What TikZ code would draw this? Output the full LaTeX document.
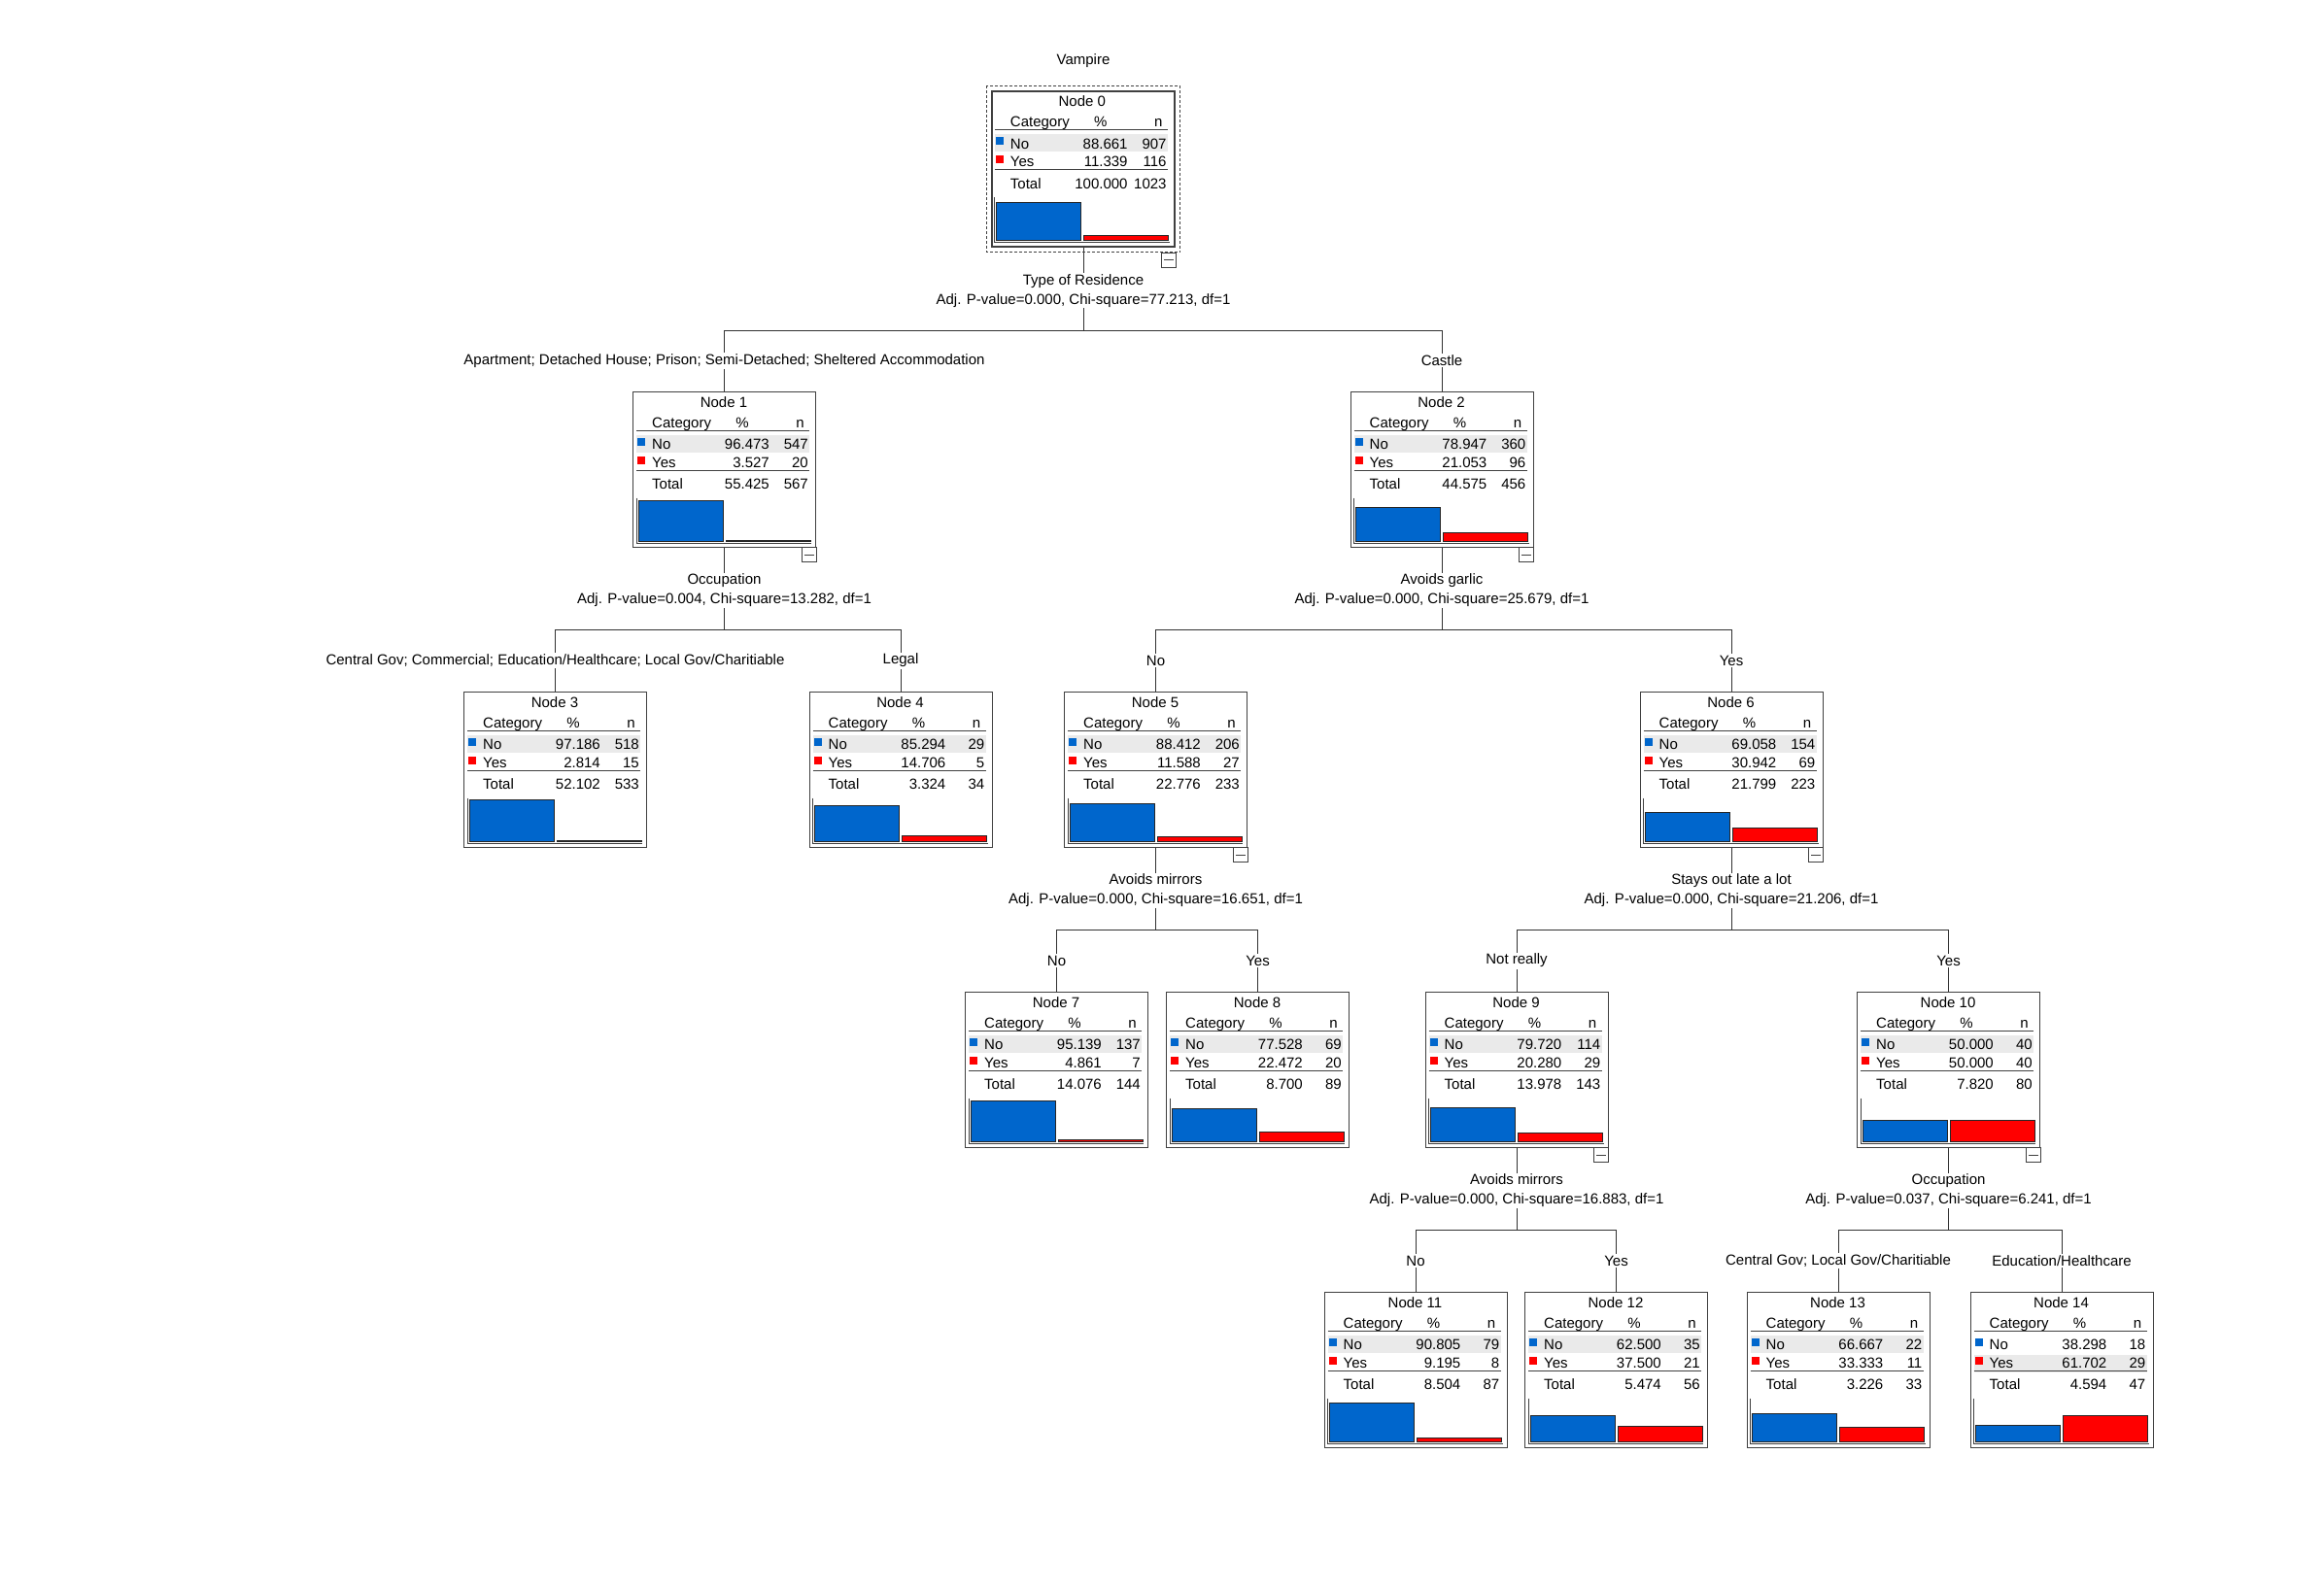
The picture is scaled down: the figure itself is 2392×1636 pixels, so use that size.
\documentclass[tikz,border=0pt]{standalone}
\usepackage{fontspec}
\setmainfont{Liberation Sans}
\usetikzlibrary{positioning}
\definecolor{noblue}{RGB}{0,102,204}
\definecolor{yesred}{RGB}{255,0,0}
\definecolor{rowgray}{RGB}{234,234,234}
\definecolor{boxgray}{RGB}{64,64,64}
\definecolor{linegray}{RGB}{50,50,50}
\begin{document}
\begin{tikzpicture}[x=1pt, y=1pt, every node/.style={font=\fontsize{15}{20}\selectfont, inner sep=0pt},
	nodebox/.style={draw=boxgray, line width=1pt, minimum width=188pt, minimum height=160pt, fill=white},
	rootbox/.style={line width=2.5pt},
	level distance=309pt,
	edge from parent/.style={draw=linegray, line width=1pt},
	edge from parent path={(\tikzparentnode.south) -- ++(0,-85) -| (\tikzchildnode.north)},
	branch/.style={fill=white, inner sep=1.5pt, pos=0.75},
	split/.style={fill=white, inner sep=1pt, align=center},
	bar/.style={draw=black!85, line width=0.8pt}]
	\useasboundingbox (0,0) rectangle (2392,-1636);
	\node[nodebox, rootbox](n0) at (1115,-174) {}
		child[sibling distance=739pt] {node[nodebox](n1){}
			child[sibling distance=348pt] {node[nodebox](n3){}
				edge from parent node[branch]{Central Gov; Commercial; Education/Healthcare; Local Gov/Charitiable}}
			child[sibling distance=363pt] {node[nodebox](n4){}
				edge from parent node[branch]{Legal}}
			edge from parent node[branch]{Apartment; Detached House; Prison; Semi-Detached; Sheltered Accommodation}}
		child[sibling distance=738pt] {node[nodebox](n2){}
			child[sibling distance=589pt] {node[nodebox](n5){}
				child[sibling distance=204pt] {node[nodebox](n7){} edge from parent node[branch]{No}}
				child[sibling distance=210pt] {node[nodebox](n8){} edge from parent node[branch]{Yes}}
				edge from parent node[branch]{No}}
			child[sibling distance=596pt] {node[nodebox](n6){}
				child[sibling distance=442pt] {node[nodebox](n9){}
					child[sibling distance=208pt] {node[nodebox](n11){} edge from parent node[branch]{No}}
					child[sibling distance=205pt] {node[nodebox](n12){} edge from parent node[branch]{Yes}}
					edge from parent node[branch]{Not really}}
				child[sibling distance=447pt] {node[nodebox](n10){}
					child[sibling distance=227pt] {node[nodebox](n13){} edge from parent node[branch]{Central Gov; Local Gov/Charitiable}}
					child[sibling distance=233pt] {node[nodebox](n14){} edge from parent node[branch]{Education/Healthcare}}
					edge from parent node[branch]{Yes}}
				edge from parent node[branch]{Yes}}
			edge from parent node[branch]{Castle}};
	\node[above=23pt of n0](ttl){Vampire};
	\draw[boxgray, line width=0.8pt, dash pattern=on 3pt off 2pt] ([shift={(-4.5,4.5)}]n0.north west) rectangle ([shift={(4.5,-4.5)}]n0.south east);
	% split variables
	\foreach \i/\var/\stat in {0/Type of Residence/{Adj. P-value=0.000, Chi-square=77.213, df=1},
		1/Occupation/{Adj. P-value=0.004, Chi-square=13.282, df=1},
		2/Avoids garlic/{Adj. P-value=0.000, Chi-square=25.679, df=1},
		5/Avoids mirrors/{Adj. P-value=0.000, Chi-square=16.651, df=1},
		6/Stays out late a lot/{Adj. P-value=0.000, Chi-square=21.206, df=1},
		9/Avoids mirrors/{Adj. P-value=0.000, Chi-square=16.883, df=1},
		10/Occupation/{Adj. P-value=0.037, Chi-square=6.241, df=1}}
		\node[split] (s\i) at ([yshift=-44pt]n\i.south) {\var\\\stat};
	% collapse buttons
	\foreach \i/\dy in {0/5,1/0,2/0,5/0,6/0,9/0,10/0}
		\draw[boxgray, line width=0.8pt, fill=white] ([shift={(0,-\dy)}]n\i.south east) ++(-15,0) rectangle ++(15,-15) ++(-12.5,7.5) -- ++(10,0);
	% node tables and bars
	\foreach \i/\np/\nn/\yp/\yn/\tp/\tn/\hl in {0/88.661/907/11.339/116/100.000/1023/45,
		1/96.473/547/3.527/20/55.425/567/45, 2/78.947/360/21.053/96/44.575/456/45,
		3/97.186/518/2.814/15/52.102/533/45, 4/85.294/29/14.706/5/3.324/34/45,
		5/88.412/206/11.588/27/22.776/233/45, 6/69.058/154/30.942/69/21.799/223/45,
		7/95.139/137/4.861/7/14.076/144/45, 8/77.528/69/22.472/20/8.700/89/45,
		9/79.720/114/20.280/29/13.978/143/45, 10/50.000/40/50.000/40/7.820/80/45,
		11/90.805/79/9.195/8/8.504/87/45, 12/62.500/35/37.500/21/5.474/56/45,
		13/66.667/22/33.333/11/3.226/33/45, 14/38.298/18/61.702/29/4.594/47/65}{
		\begin{scope}[shift={(n\i.north west)}]
			\fill[rowgray] (4,-\hl) rectangle (182,-\hl-18);
			\node[anchor=base] at (94,-16.5) {Node \i};
			\node[anchor=base west] at (20,-37.5) {Category};
			\node[anchor=base] at (113,-37.5) {\%};
			\node[anchor=base east] at (177,-37.5) {n};
			\draw[boxgray, line width=1pt] (4,-41) -- (182,-41);
			\fill[noblue] (5,-48.5) rectangle (13,-56.5);
			\node[anchor=base west] at (20,-60.3) {No};
			\node[anchor=base east] at (141,-60.3) {\np};
			\node[anchor=base east] at (181,-60.3) {\nn};
			\fill[yesred] (5,-67.5) rectangle (13,-75.5);
			\node[anchor=base west] at (20,-79) {Yes};
			\node[anchor=base east] at (141,-79) {\yp};
			\node[anchor=base east] at (181,-79) {\yn};
			\draw[boxgray, line width=1pt] (4,-82) -- (182,-82);
			\node[anchor=base west] at (20,-101.3) {Total};
			\node[anchor=base east] at (141,-101.3) {\tp};
			\node[anchor=base east] at (181,-101.3) {\tn};
			\draw[boxgray, line width=0.8pt] (4,-110) -- (4,-157) -- (184,-157);
			\draw[bar, fill=noblue] (6,-155) rectangle (93,{-155+0.44*\np});
			\draw[bar, fill=yesred] (96,-155) rectangle (183,{-155+0.44*\yp});
		\end{scope}}
\end{tikzpicture}
\end{document}
